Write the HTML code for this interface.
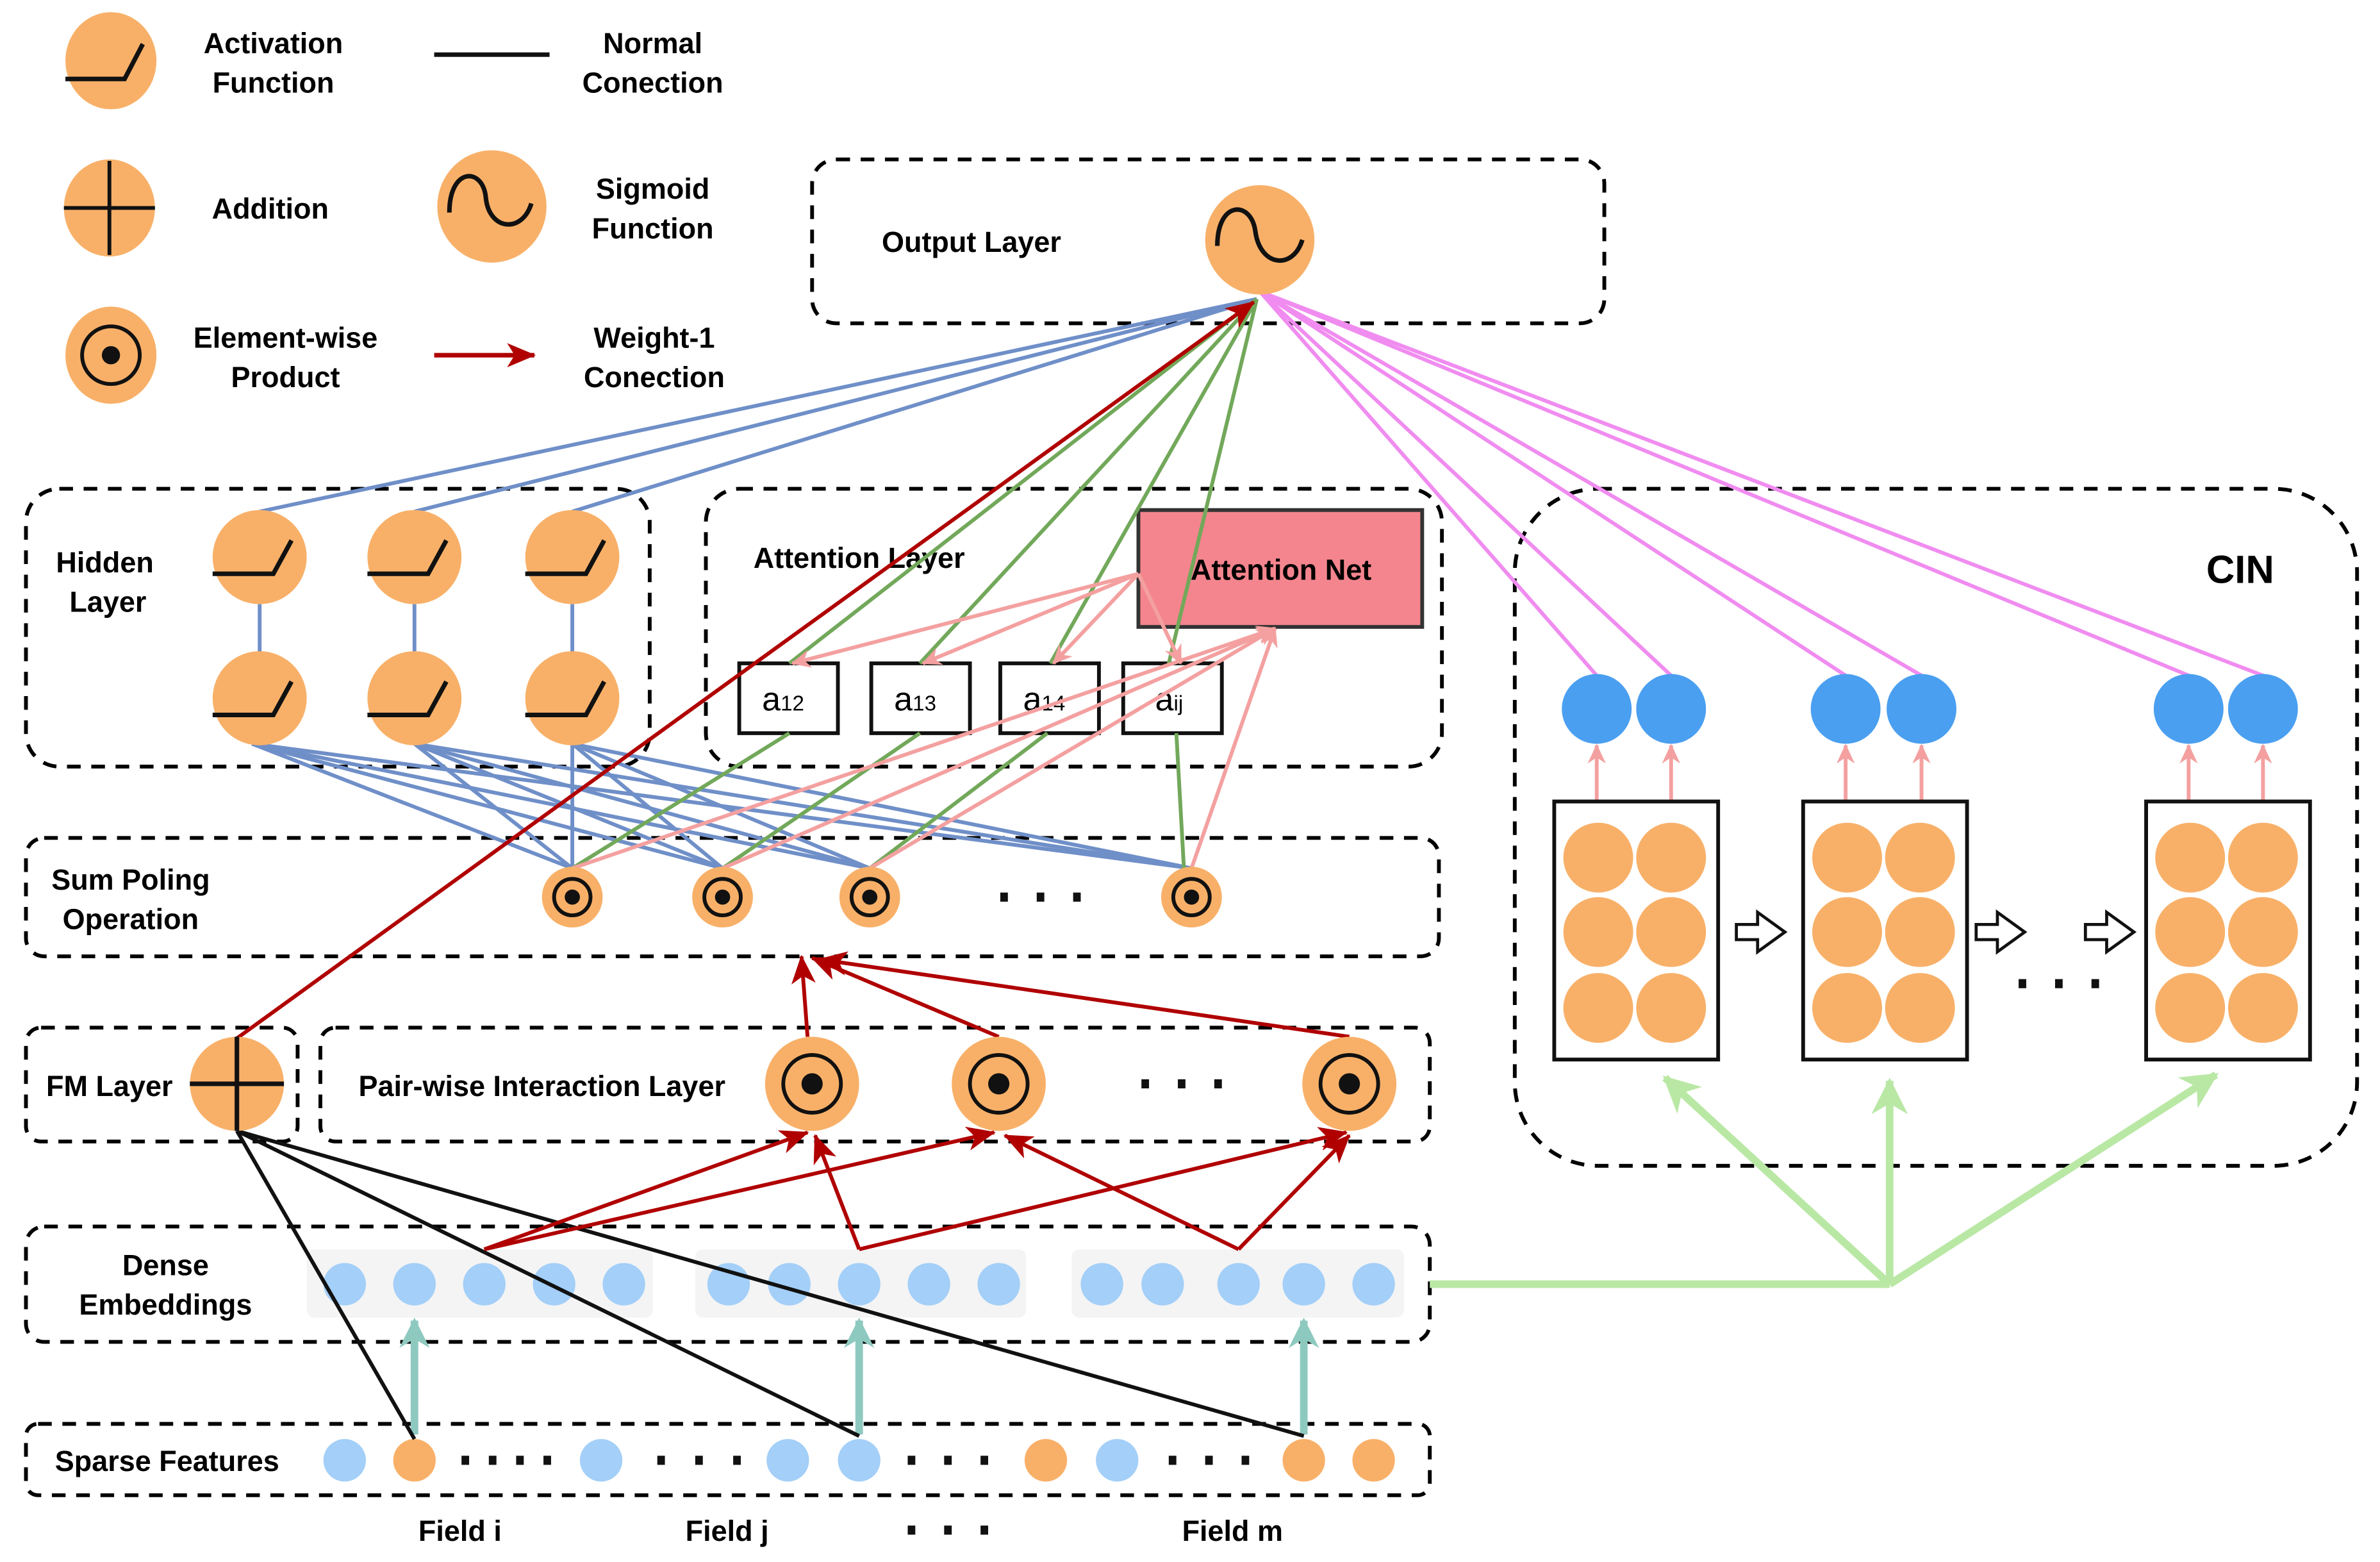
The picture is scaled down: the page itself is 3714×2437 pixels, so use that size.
<!DOCTYPE html>
<html><head><meta charset="utf-8"><style>html,body{margin:0;padding:0;background:#fff}svg{display:block}</style></head><body>
<svg width="3714" height="2437" viewBox="0 0 1568 1029" xmlns="http://www.w3.org/2000/svg" font-family="Liberation Sans, sans-serif" font-weight="bold" font-size="19">
<defs>
<marker id="mr" markerWidth="8" markerHeight="8" refX="7" refY="4" orient="auto" markerUnits="userSpaceOnUse"><path d="M0,0 L8,4 L0,8 L2,4z" fill="#b00000" transform="scale(1.6) translate(-3,-1.5)"/></marker>
<marker id="mp" markerWidth="14" markerHeight="14" refX="12" refY="7" orient="auto" markerUnits="userSpaceOnUse"><path d="M0,1 L13,7 L0,13 L4,7z" fill="#f4a0a0"/></marker>
<marker id="mt" markerWidth="22" markerHeight="22" refX="18" refY="11" orient="auto" markerUnits="userSpaceOnUse"><path d="M0,1 L20,11 L0,21 L6,11z" fill="#8ec9c0"/></marker>
<marker id="mg" markerWidth="26" markerHeight="26" refX="22" refY="13" orient="auto" markerUnits="userSpaceOnUse"><path d="M0,1 L24,13 L0,25 L7,13z" fill="#b9e8a5"/></marker>
<marker id="mr2" markerWidth="20" markerHeight="20" refX="18" refY="10" orient="auto" markerUnits="userSpaceOnUse"><path d="M0,2 L19,10 L0,18 L5,10z" fill="#b00000"/></marker>
</defs>
<g fill="none" stroke="#000" stroke-width="2.5" stroke-dasharray="9,7">
<rect x="535" y="105" width="522" height="108" rx="16"/>
<rect x="17" y="322" width="411" height="183" rx="22"/>
<rect x="465" y="322" width="485" height="183" rx="22"/>
<rect x="998" y="322" width="555" height="446" rx="55"/>
<rect x="17" y="552" width="931" height="78" rx="12"/>
<rect x="17" y="677" width="179" height="75" rx="10"/>
<rect x="211" y="677" width="731" height="75" rx="10"/>
<rect x="17" y="808" width="925" height="76" rx="12"/>
<rect x="17" y="938" width="925" height="47" rx="8"/>
</g>
<!-- legend -->
<g fill="#f8b068">
<ellipse cx="73" cy="40" rx="30" ry="32"/><ellipse cx="72" cy="137" rx="30" ry="32"/><ellipse cx="324" cy="136" rx="36" ry="37"/><ellipse cx="73" cy="234" rx="30" ry="32"/>
</g>
<path d="M43,52 H82 L94,29" stroke="#111" stroke-width="3" fill="none"/>
<path d="M42,137 H102 M72,106 V168" stroke="#111" stroke-width="2.5"/>
<path d="M296,140 C296,110 318,110 320,130 C322,152 344,154 350,134" stroke="#111" stroke-width="3" fill="none"/>
<circle cx="73" cy="234" r="19" stroke="#111" stroke-width="2.5" fill="none"/><circle cx="73" cy="234" r="6" fill="#111"/>
<line x1="286" y1="36" x2="362" y2="36" stroke="#111" stroke-width="3"/>
<line x1="286" y1="234" x2="352" y2="234" stroke="#b00000" stroke-width="3" marker-end="url(#mr2)"/>
<g text-anchor="middle">
<text x="180" y="35">Activation</text><text x="180" y="61">Function</text>
<text x="430" y="35">Normal</text><text x="430" y="61">Conection</text>
<text x="178" y="144">Addition</text>
<text x="430" y="131">Sigmoid</text><text x="430" y="157">Function</text>
<text x="188" y="229">Element-wise</text><text x="188" y="255">Product</text>
<text x="431" y="229">Weight-1</text><text x="431" y="255">Conection</text>
<text x="640" y="166">Output  Layer</text>
<text x="69" y="377">Hidden</text><text x="71" y="403">Layer</text>
<text x="566" y="374">Attention Layer</text>
<text x="86" y="586">Sum Poling</text><text x="86" y="612">Operation</text>
<text x="72" y="722">FM Layer</text>
<text x="357" y="722">Pair-wise Interaction Layer</text>
<text x="109" y="840">Dense</text><text x="109" y="866">Embeddings</text>
<text x="110" y="969">Sparse Features</text>
<text x="303" y="1015">Field i</text><text x="479" y="1015">Field j</text><text x="812" y="1015">Field m</text>
<text x="1476" y="384" font-size="26">CIN</text>
</g>
<!-- dense & sparse circles -->
<g fill="#f4f4f4"><rect x="202" y="823" width="228" height="45" rx="5"/><rect x="458" y="823" width="218" height="45" rx="5"/><rect x="706" y="823" width="219" height="45" rx="5"/></g>
<g fill="#a3cff8">
<circle cx="227" cy="846" r="14"/><circle cx="273" cy="846" r="14"/><circle cx="319" cy="846" r="14"/><circle cx="365" cy="846" r="14"/><circle cx="411" cy="846" r="14"/>
<circle cx="480" cy="846" r="14"/><circle cx="520" cy="846" r="14"/><circle cx="566" cy="846" r="14"/><circle cx="612" cy="846" r="14"/><circle cx="658" cy="846" r="14"/>
<circle cx="726" cy="846" r="14"/><circle cx="766" cy="846" r="14"/><circle cx="816" cy="846" r="14"/><circle cx="859" cy="846" r="14"/><circle cx="905" cy="846" r="14"/>
<circle cx="227" cy="962" r="14"/><circle cx="396" cy="962" r="14"/><circle cx="519" cy="962" r="14"/><circle cx="566" cy="962" r="14"/><circle cx="736" cy="962" r="14"/>
</g>
<g fill="#f8b068"><circle cx="273" cy="962" r="14"/><circle cx="689" cy="962" r="14"/><circle cx="859" cy="962" r="14"/><circle cx="905" cy="962" r="14"/></g>
<g fill="#111">
<rect x="304" y="959" width="5" height="6"/><rect x="322" y="959" width="5" height="6"/><rect x="340" y="959" width="5" height="6"/><rect x="358" y="959" width="5" height="6"/>
<rect x="433" y="959" width="5" height="6"/><rect x="458" y="959" width="5" height="6"/><rect x="483" y="959" width="5" height="6"/>
<rect x="598" y="959" width="5" height="6"/><rect x="622" y="959" width="5" height="6"/><rect x="646" y="959" width="5" height="6"/>
<rect x="770" y="959" width="5" height="6"/><rect x="794" y="959" width="5" height="6"/><rect x="818" y="959" width="5" height="6"/>
<rect x="598" y="1005" width="5" height="6"/><rect x="622" y="1005" width="5" height="6"/><rect x="646" y="1005" width="5" height="6"/>
<rect x="659" y="588" width="5" height="6"/><rect x="683" y="588" width="5" height="6"/><rect x="707" y="588" width="5" height="6"/>
<rect x="752" y="711" width="5" height="6"/><rect x="776" y="711" width="5" height="6"/><rect x="800" y="711" width="5" height="6"/>
<rect x="1330" y="645" width="5" height="6"/><rect x="1354" y="645" width="5" height="6"/><rect x="1378" y="645" width="5" height="6"/>
</g>
<!-- teal arrows -->
<g stroke="#8ec9c0" stroke-width="5"><line x1="273" y1="945" x2="273" y2="870" marker-end="url(#mt)"/><line x1="566" y1="945" x2="566" y2="870" marker-end="url(#mt)"/><line x1="859" y1="945" x2="859" y2="870" marker-end="url(#mt)"/></g>
<!-- green CIN lines -->
<g stroke="#b9e8a5" stroke-width="5" fill="none"><path d="M942,846 H1245"/><line x1="1245" y1="846" x2="1097" y2="710" marker-end="url(#mg)"/><line x1="1245" y1="846" x2="1245" y2="712" marker-end="url(#mg)"/><line x1="1245" y1="846" x2="1460" y2="708" marker-end="url(#mg)"/></g>
<!-- black lines -->
<g stroke="#111" stroke-width="2.5"><line x1="156" y1="745" x2="273" y2="948"/><line x1="156" y1="745" x2="566" y2="946"/><line x1="156" y1="745" x2="859" y2="946"/></g>
<!-- blue lines -->
<g stroke="#6f8fc8" stroke-width="2.5">
<line x1="171" y1="337" x2="828" y2="197"/><line x1="273" y1="337" x2="828" y2="197"/><line x1="377" y1="337" x2="828" y2="197"/>
<line x1="171" y1="398" x2="171" y2="430"/><line x1="273" y1="398" x2="273" y2="430"/><line x1="377" y1="398" x2="377" y2="430"/>
<line x1="166" y1="490" x2="377" y2="572"/><line x1="166" y1="490" x2="476" y2="572"/><line x1="166" y1="490" x2="573" y2="572"/><line x1="166" y1="490" x2="785" y2="572"/>
<line x1="273" y1="490" x2="377" y2="572"/><line x1="273" y1="490" x2="476" y2="572"/><line x1="273" y1="490" x2="573" y2="572"/><line x1="273" y1="490" x2="785" y2="572"/>
<line x1="377" y1="490" x2="377" y2="572"/><line x1="377" y1="490" x2="476" y2="572"/><line x1="377" y1="490" x2="573" y2="572"/><line x1="377" y1="490" x2="785" y2="572"/>
</g>
<!-- magenta -->
<g stroke="#f08cf0" stroke-width="2.5">
<line x1="830" y1="192" x2="1052" y2="445"/><line x1="830" y1="192" x2="1101" y2="445"/><line x1="830" y1="192" x2="1216" y2="445"/><line x1="830" y1="192" x2="1266" y2="445"/><line x1="830" y1="192" x2="1442" y2="445"/><line x1="830" y1="192" x2="1491" y2="445"/>
</g>
<!-- attention boxes -->
<rect x="750" y="336" width="187" height="77" fill="#f4858e" stroke="#333" stroke-width="2.5"/>
<text x="844" y="382" text-anchor="middle">Attention Net</text>
<g fill="#fff" stroke="#111" stroke-width="2.5"><rect x="487" y="437" width="65" height="46"/><rect x="574" y="437" width="65" height="46"/><rect x="659" y="437" width="65" height="46"/><rect x="740" y="437" width="65" height="46"/></g>
<g font-weight="normal" font-size="22"><text x="502" y="468">a<tspan font-size="14">12</tspan></text><text x="589" y="468">a<tspan font-size="14">13</tspan></text><text x="674" y="468">a<tspan font-size="14">14</tspan></text><text x="761" y="468">a<tspan font-size="14">ij</tspan></text></g>
<!-- green lines -->
<g stroke="#72a85a" stroke-width="2.5">
<line x1="828" y1="197" x2="520" y2="437"/><line x1="828" y1="197" x2="606" y2="437"/><line x1="828" y1="197" x2="692" y2="437"/><line x1="828" y1="197" x2="770" y2="437"/>
<line x1="520" y1="483" x2="377" y2="572"/><line x1="606" y1="483" x2="476" y2="572"/><line x1="690" y1="483" x2="573" y2="572"/><line x1="775" y1="483" x2="780" y2="572"/>
</g>
<!-- pink -->
<g stroke="#f4a0a0" stroke-width="2.5">
<line x1="750" y1="378" x2="522" y2="437" marker-end="url(#mp)"/><line x1="750" y1="378" x2="608" y2="437" marker-end="url(#mp)"/><line x1="750" y1="378" x2="694" y2="437" marker-end="url(#mp)"/><line x1="750" y1="378" x2="778" y2="437" marker-end="url(#mp)"/>
<line x1="377" y1="572" x2="840" y2="414" marker-end="url(#mp)"/><line x1="476" y1="572" x2="840" y2="414" marker-end="url(#mp)"/><line x1="573" y1="572" x2="840" y2="414" marker-end="url(#mp)"/><line x1="785" y1="572" x2="840" y2="414" marker-end="url(#mp)"/>
<line x1="1052" y1="528" x2="1052" y2="491" marker-end="url(#mp)"/><line x1="1101" y1="528" x2="1101" y2="491" marker-end="url(#mp)"/><line x1="1216" y1="528" x2="1216" y2="491" marker-end="url(#mp)"/><line x1="1266" y1="528" x2="1266" y2="491" marker-end="url(#mp)"/><line x1="1442" y1="528" x2="1442" y2="491" marker-end="url(#mp)"/><line x1="1491" y1="528" x2="1491" y2="491" marker-end="url(#mp)"/>
</g>
<!-- red lines -->
<g stroke="#b00000" stroke-width="2.5" fill="none">
<line x1="156" y1="684" x2="826" y2="199" marker-end="url(#mr2)"/>
<line x1="319" y1="823" x2="532" y2="746" marker-end="url(#mr2)"/><line x1="319" y1="823" x2="655" y2="746" marker-end="url(#mr2)"/>
<line x1="566" y1="823" x2="537" y2="748" marker-end="url(#mr2)"/><line x1="566" y1="823" x2="887" y2="746" marker-end="url(#mr2)"/>
<line x1="816" y1="823" x2="662" y2="748" marker-end="url(#mr2)"/><line x1="816" y1="823" x2="889" y2="748" marker-end="url(#mr2)"/>
<line x1="532" y1="683" x2="528" y2="630" marker-end="url(#mr2)"/><line x1="658" y1="683" x2="535" y2="631" marker-end="url(#mr2)"/><line x1="889" y1="683" x2="540" y2="632" marker-end="url(#mr2)"/>
</g>
<!-- nodes -->
<g fill="#f8b068">
<circle cx="830" cy="158" r="36"/>
<circle cx="171" cy="367" r="31"/><circle cx="273" cy="367" r="31"/><circle cx="377" cy="367" r="31"/>
<circle cx="171" cy="460" r="31"/><circle cx="273" cy="460" r="31"/><circle cx="377" cy="460" r="31"/>
<circle cx="377" cy="591" r="20"/><circle cx="476" cy="591" r="20"/><circle cx="573" cy="591" r="20"/><circle cx="785" cy="591" r="20"/>
<circle cx="156" cy="714" r="31"/><circle cx="535" cy="714" r="31"/><circle cx="658" cy="714" r="31"/><circle cx="889" cy="714" r="31"/>
</g>
<path d="M802,162 C802,132 824,132 827,152 C830,176 852,178 858,158" stroke="#111" stroke-width="3" fill="none"/>
<g stroke="#111" stroke-width="3" fill="none">
<path d="M140,378 H180 L192,356"/><path d="M242,378 H282 L294,356"/><path d="M346,378 H386 L398,356"/>
<path d="M140,471 H180 L192,449"/><path d="M242,471 H282 L294,449"/><path d="M346,471 H386 L398,449"/>
<path d="M125,714 H187 M156,683 V745"/>
</g>
<g stroke="#111" stroke-width="2.5" fill="none">
<circle cx="377" cy="591" r="12"/><circle cx="476" cy="591" r="12"/><circle cx="573" cy="591" r="12"/><circle cx="785" cy="591" r="12"/>
<circle cx="535" cy="714" r="19"/><circle cx="658" cy="714" r="19"/><circle cx="889" cy="714" r="19"/>
</g>
<g fill="#111">
<circle cx="377" cy="591" r="5"/><circle cx="476" cy="591" r="5"/><circle cx="573" cy="591" r="5"/><circle cx="785" cy="591" r="5"/>
<circle cx="535" cy="714" r="7"/><circle cx="658" cy="714" r="7"/><circle cx="889" cy="714" r="7"/>
</g>
<!-- CIN -->
<g fill="#4a9ff0">
<circle cx="1052" cy="467" r="23"/><circle cx="1101" cy="467" r="23"/><circle cx="1216" cy="467" r="23"/><circle cx="1266" cy="467" r="23"/><circle cx="1442" cy="467" r="23"/><circle cx="1491" cy="467" r="23"/>
</g>
<g fill="#fff" stroke="#111" stroke-width="2.5"><rect x="1024" y="528" width="108" height="170"/><rect x="1188" y="528" width="108" height="170"/><rect x="1414" y="528" width="108" height="170"/></g>
<g fill="#f8b068">
<circle cx="1053" cy="565" r="23"/><circle cx="1101" cy="565" r="23"/><circle cx="1053" cy="614" r="23"/><circle cx="1101" cy="614" r="23"/><circle cx="1053" cy="664" r="23"/><circle cx="1101" cy="664" r="23"/>
<circle cx="1217" cy="565" r="23"/><circle cx="1265" cy="565" r="23"/><circle cx="1217" cy="614" r="23"/><circle cx="1265" cy="614" r="23"/><circle cx="1217" cy="664" r="23"/><circle cx="1265" cy="664" r="23"/>
<circle cx="1443" cy="565" r="23"/><circle cx="1491" cy="565" r="23"/><circle cx="1443" cy="614" r="23"/><circle cx="1491" cy="614" r="23"/><circle cx="1443" cy="664" r="23"/><circle cx="1491" cy="664" r="23"/>
</g>
<g fill="#fff" stroke="#111" stroke-width="2">
<path d="M1144,609 h14 v-8 l18,13 l-18,13 v-8 h-14z"/><path d="M1302,609 h14 v-8 l18,13 l-18,13 v-8 h-14z"/><path d="M1374,609 h14 v-8 l18,13 l-18,13 v-8 h-14z"/>
</g>
</svg>
</body></html>
